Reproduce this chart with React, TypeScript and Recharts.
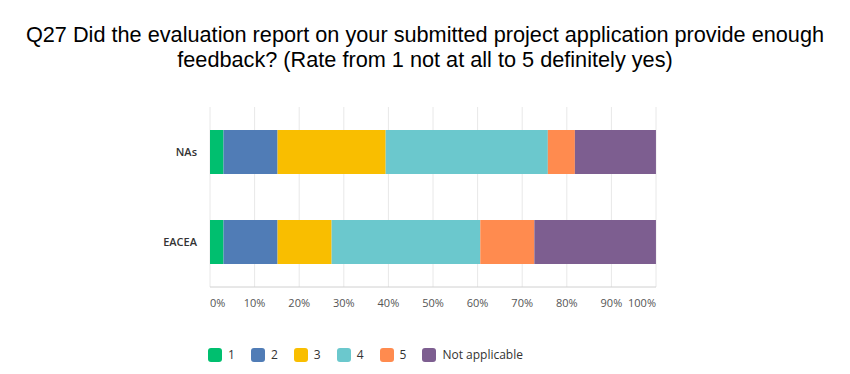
import React from 'react';
import { BarChart, Bar, XAxis, YAxis, CartesianGrid } from 'recharts';

const categories = ['NAs', 'EACEA'];
const seriesNames = ['1', '2', '3', '4', '5', 'Not applicable'];
const seriesColors = ['#00BF6F', '#507CB6', '#F9BE00', '#6BC8CD', '#FF8B4F', '#7D5E90'];
const nasValues = [3.03, 12.12, 24.24, 36.36, 6.06, 18.18];
const eaceaValues = [3.03, 12.12, 12.12, 33.33, 12.12, 27.27];
const xTicks = [0, 10, 20, 30, 40, 50, 60, 70, 80, 90, 100];

const rows = [nasValues, eaceaValues];
const data = categories.map((name, i) => {
    const row: Record<string, string | number> = { name };
    seriesNames.forEach((s, j) => {
        row[s] = rows[i][j];
    });
    return row;
});

const tickFont = '"Open Sans", sans-serif';

const XTick = (props: any) => {
    const { x, y, payload } = props;
    let anchor = 'middle';
    if (payload.value === 0) anchor = 'start';
    if (payload.value === 100) anchor = 'end';
    return (
        <text x={x} y={y + 12} textAnchor={anchor} fontSize={11} fontFamily={tickFont} fill="#555">
            {payload.value}%
        </text>
    );
};

const App: React.FC = () => {
    return (
        <div style={{ position: 'absolute', left: 0, top: 0, width: 850, height: 374, background: '#fff' }}>
            <div
                style={{
                    position: 'absolute',
                    left: 0,
                    top: 22,
                    width: 850,
                    textAlign: 'center',
                    fontFamily: '"Liberation Sans", Arial, sans-serif',
                    fontSize: 21.7,
                    lineHeight: '25px',
                    color: '#000',
                    whiteSpace: 'nowrap',
                }}
            >
                Q27 Did the evaluation report on your submitted project application provide enough
                <br />
                feedback? (Rate from 1 not at all to 5 definitely yes)
            </div>
            <div style={{ position: 'absolute', left: 0, top: 0 }}>
                <BarChart
                    width={850}
                    height={374}
                    data={data}
                    layout="vertical"
                    margin={{ top: 107, right: 194, left: 0, bottom: 57 }}
                    barSize={44}
                >
                    <CartesianGrid horizontal={false} stroke="#e8e8e8" />
                    <XAxis
                        type="number"
                        domain={[0, 100]}
                        ticks={xTicks}
                        interval={0}
                        axisLine={{ stroke: '#d0d0d0' }}
                        tickLine={false}
                        height={30}
                        tick={<XTick />}
                    />
                    <YAxis
                        type="category"
                        dataKey="name"
                        width={210}
                        axisLine={false}
                        tickLine={false}
                        tickMargin={7}
                        tick={{ fontSize: 11, fontFamily: tickFont, fontWeight: 600, fill: '#333' }}
                    />
                    {seriesNames.map((s, i) => (
                        <Bar key={s} dataKey={s} stackId="a" fill={seriesColors[i]} isAnimationActive={false} />
                    ))}
                </BarChart>
            </div>
            <div
                style={{
                    position: 'absolute',
                    left: 208,
                    top: 346,
                    display: 'flex',
                    alignItems: 'center',
                    fontFamily: tickFont,
                    fontSize: 12,
                    color: '#333',
                }}
            >
                {seriesNames.map((s, i) => (
                    <div key={s} style={{ display: 'flex', alignItems: 'center', marginRight: 16 }}>
                        <span
                            style={{
                                width: 14,
                                height: 14,
                                borderRadius: 3,
                                background: seriesColors[i],
                                display: 'inline-block',
                                marginRight: 6,
                            }}
                        />
                        <span>{s}</span>
                    </div>
                ))}
            </div>
        </div>
    );
};

export default App;
